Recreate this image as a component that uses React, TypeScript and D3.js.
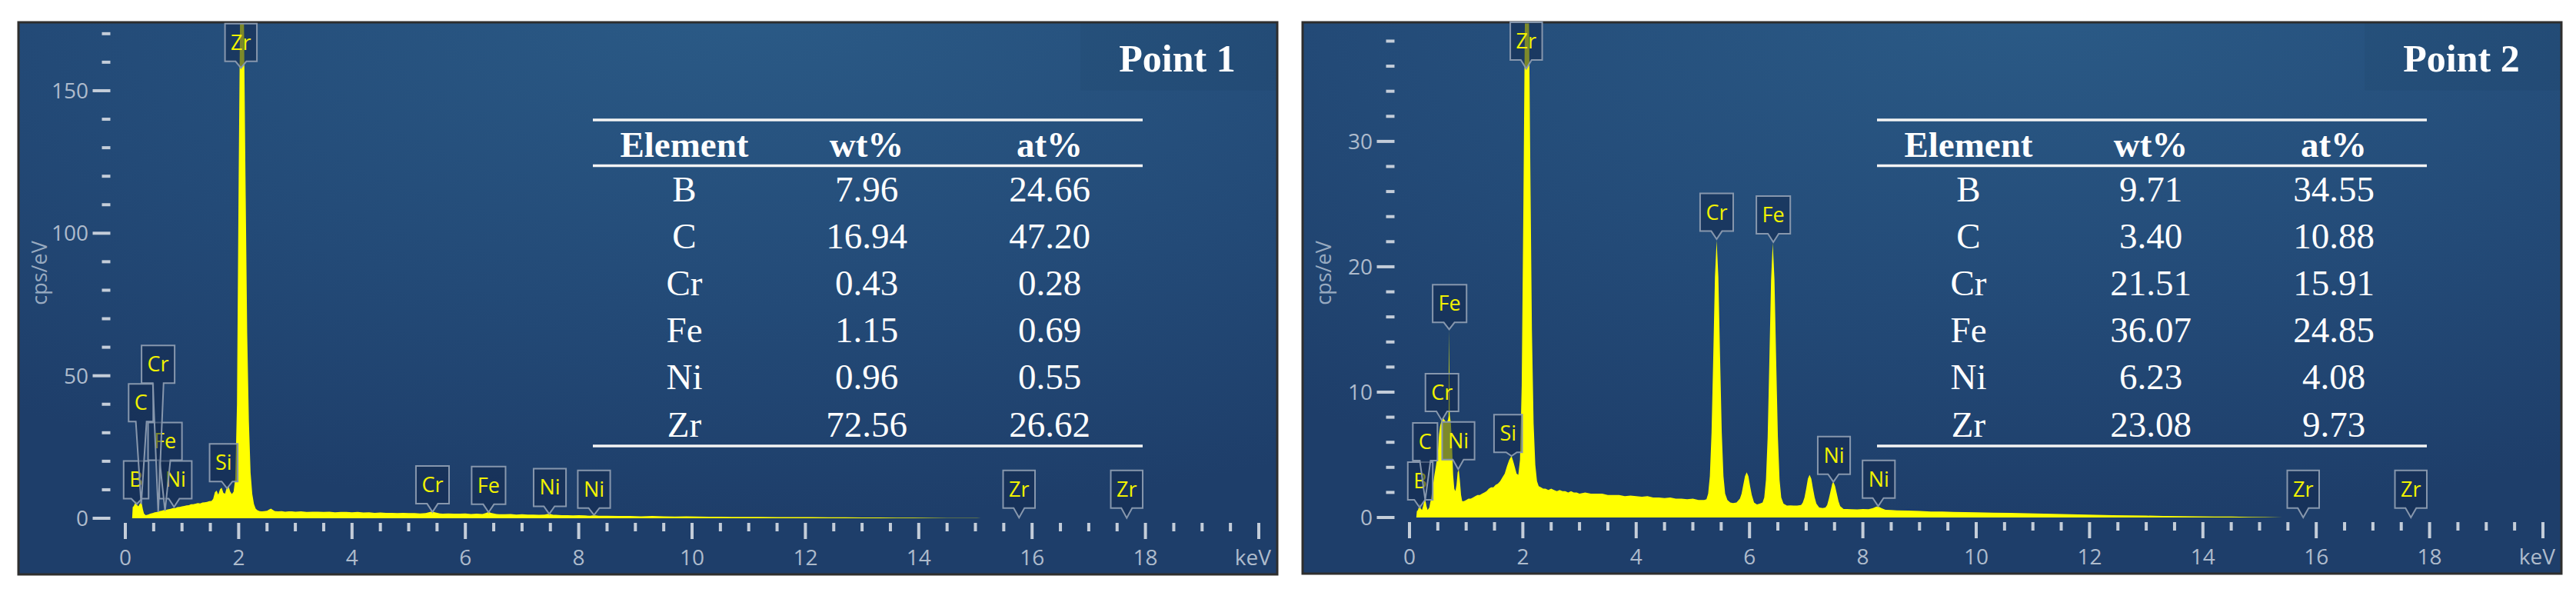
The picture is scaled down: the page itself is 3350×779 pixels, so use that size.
import React, { useEffect, useRef } from "react";
import * as d3 from "d3";

type Pt = [number, number];
type PeakLabel = { el: string; e: number; box: number; tipE: number; tipV: number };

// spectrum of point 1 : [keV, cps/eV]
const spectrum1: Pt[] = [
  [0.12, 0], [0.13, 3.9], [0.15, 4.3], [0.17, 5.2], [0.19, 6.1], [0.21, 4.6], [0.23, 4.2], [0.25, 4.9],
  [0.27, 5.6], [0.29, 5.2], [0.31, 3.1], [0.33, 1.6], [0.36, 1.1], [0.4, 1.3], [0.44, 1.6], [0.48, 1.8],
  [0.52, 2.1], [0.56, 2.2], [0.6, 2.5], [0.64, 2.6], [0.68, 2.9], [0.72, 3.0], [0.76, 3.2], [0.8, 3.3],
  [0.84, 3.6], [0.88, 3.6], [0.92, 3.9], [0.96, 4.0], [1.0, 4.2], [1.04, 4.3], [1.08, 4.5], [1.12, 4.6],
  [1.16, 4.9], [1.2, 4.9], [1.24, 5.1], [1.28, 5.3], [1.32, 5.2], [1.36, 5.5], [1.4, 5.6], [1.44, 5.7],
  [1.48, 6.0], [1.52, 6.1], [1.55, 6.8], [1.58, 9.1], [1.61, 9.7], [1.64, 8.3], [1.67, 10.1], [1.7, 10.7],
  [1.73, 8.9], [1.76, 8.6], [1.79, 10.9], [1.82, 11.3], [1.85, 9.4], [1.88, 8.5], [1.91, 9.3], [1.94, 14],
  [1.97, 40], [2.0, 120], [2.03, 190], [2.06, 205], [2.09, 180], [2.12, 120], [2.15, 65], [2.18, 34],
  [2.21, 16], [2.24, 8.5], [2.27, 5.0], [2.3, 3.4], [2.33, 2.8], [2.37, 2.5], [2.41, 2.4], [2.45, 2.5],
  [2.5, 2.6], [2.54, 3.1], [2.57, 3.4], [2.6, 3.0], [2.64, 2.5], [2.7, 2.4], [2.76, 2.5], [2.82, 2.3],
  [2.88, 2.4], [2.94, 2.4], [3.0, 2.3], [3.1, 2.4], [3.2, 2.2], [3.3, 2.3], [3.4, 2.3], [3.5, 2.2],
  [3.6, 2.3], [3.7, 2.1], [3.8, 2.2], [3.9, 2.2], [4.0, 2.1], [4.1, 2.2], [4.2, 2.0], [4.3, 2.1],
  [4.4, 1.9], [4.5, 2.0], [4.6, 1.9], [4.7, 1.9], [4.8, 1.8], [4.9, 1.9], [5.0, 1.8], [5.1, 1.8],
  [5.2, 1.7], [5.3, 1.8], [5.38, 2.2], [5.42, 2.4], [5.46, 2.1], [5.55, 1.7], [5.6, 1.6], [5.7, 1.7],
  [5.8, 1.6], [5.9, 1.6], [6.0, 1.7], [6.1, 1.5], [6.2, 1.6], [6.3, 1.5], [6.37, 1.9], [6.41, 2.3],
  [6.45, 1.9], [6.55, 1.5], [6.6, 1.4], [6.7, 1.4], [6.8, 1.5], [6.9, 1.3], [7.0, 1.4], [7.1, 1.3],
  [7.2, 1.3], [7.3, 1.2], [7.4, 1.3], [7.48, 1.6], [7.55, 1.2], [7.6, 1.2], [7.7, 1.1], [7.8, 1.1],
  [7.9, 1.0], [8.0, 1.1], [8.1, 1.0], [8.2, 0.9], [8.27, 1.1], [8.35, 0.9], [8.5, 0.9], [8.7, 0.8],
  [8.9, 0.8], [9.1, 0.7], [9.3, 0.8], [9.5, 0.7], [9.7, 0.6], [9.9, 0.65], [10.1, 0.6], [10.3, 0.55],
  [10.5, 0.55], [10.7, 0.5], [10.9, 0.5], [11.2, 0.45], [11.5, 0.42], [11.8, 0.4], [12.1, 0.38],
  [12.4, 0.35], [12.7, 0.32], [13.0, 0.28], [13.3, 0.24], [13.6, 0.2], [13.9, 0.17], [14.2, 0.13],
  [14.5, 0.1], [14.8, 0.06], [15.1, 0.03], [15.4, 0],
];

// spectrum of point 2 : [keV, cps/eV]
const spectrum2: Pt[] = [
  [0.12, 0], [0.13, 0.5], [0.15, 0.6], [0.17, 0.9], [0.18, 1.1], [0.2, 0.7], [0.22, 0.6], [0.24, 0.9],
  [0.26, 1.3], [0.28, 1.4], [0.3, 0.9], [0.32, 0.6], [0.35, 0.8], [0.38, 1.5], [0.41, 2.4], [0.44, 3.4],
  [0.47, 4.2], [0.5, 5.2], [0.52, 6.6], [0.54, 7.3], [0.57, 7.8], [0.6, 7.9], [0.63, 7.7], [0.66, 7.6],
  [0.68, 7.8], [0.69, 8.1], [0.7, 15.0], [0.71, 8.2], [0.73, 7.5], [0.75, 5.8], [0.77, 3.4], [0.79, 2.3],
  [0.81, 2.1], [0.83, 2.6], [0.85, 3.6], [0.87, 3.8], [0.89, 2.9], [0.91, 1.8], [0.93, 1.3], [0.96, 1.3],
  [1.0, 1.4], [1.04, 1.5], [1.08, 1.5], [1.12, 1.6], [1.16, 1.7], [1.2, 1.8], [1.24, 1.8], [1.28, 1.9],
  [1.32, 2.0], [1.36, 2.1], [1.4, 2.3], [1.44, 2.4], [1.48, 2.4], [1.52, 2.6], [1.56, 2.7], [1.6, 2.9],
  [1.64, 3.2], [1.68, 3.5], [1.72, 4.1], [1.76, 4.6], [1.8, 4.9], [1.83, 4.5], [1.86, 4.0], [1.89, 3.5],
  [1.92, 3.4], [1.95, 4.6], [1.98, 10.5], [2.01, 25], [2.04, 42], [2.07, 50], [2.1, 44], [2.13, 29],
  [2.16, 15], [2.19, 7.5], [2.22, 4.2], [2.25, 2.9], [2.28, 2.5], [2.32, 2.4], [2.36, 2.3], [2.4, 2.3],
  [2.45, 2.2], [2.5, 2.3], [2.55, 2.2], [2.6, 2.1], [2.65, 2.2], [2.7, 2.1], [2.75, 2.1], [2.8, 2.0],
  [2.85, 2.1], [2.9, 2.0], [2.95, 2.0], [3.0, 1.9], [3.1, 2.0], [3.2, 1.9], [3.3, 1.9], [3.4, 1.9],
  [3.5, 1.8], [3.6, 1.8], [3.7, 1.8], [3.8, 1.7], [3.9, 1.75], [4.0, 1.7], [4.1, 1.65], [4.2, 1.7],
  [4.3, 1.6], [4.4, 1.6], [4.5, 1.55], [4.6, 1.6], [4.7, 1.5], [4.8, 1.5], [4.9, 1.45], [5.0, 1.5],
  [5.1, 1.4], [5.2, 1.4], [5.24, 1.45], [5.27, 1.9], [5.3, 3.3], [5.33, 6.8], [5.36, 12.8], [5.39, 19.2],
  [5.42, 22.1], [5.45, 19.2], [5.48, 12.8], [5.51, 6.8], [5.54, 3.3], [5.57, 1.9], [5.61, 1.4], [5.66, 1.2],
  [5.71, 1.15], [5.77, 1.2], [5.83, 1.5], [5.86, 1.9], [5.89, 2.6], [5.92, 3.3], [5.95, 3.6], [5.98, 3.3],
  [6.01, 2.5], [6.04, 1.8], [6.08, 1.2], [6.13, 1.05], [6.18, 1.1], [6.23, 1.2], [6.26, 1.6], [6.29, 3.0],
  [6.32, 6.4], [6.35, 12.5], [6.38, 18.9], [6.41, 21.9], [6.44, 19.0], [6.47, 12.6], [6.5, 6.5], [6.53, 3.0],
  [6.56, 1.6], [6.6, 1.1], [6.66, 0.95], [6.72, 0.97], [6.78, 0.95], [6.84, 0.95], [6.91, 1.0], [6.94, 1.2],
  [6.97, 1.6], [7.0, 2.3], [7.03, 3.1], [7.06, 3.4], [7.09, 3.1], [7.12, 2.3], [7.15, 1.6], [7.18, 1.1],
  [7.23, 0.8], [7.29, 0.75], [7.34, 0.8], [7.37, 1.0], [7.4, 1.5], [7.43, 2.1], [7.46, 2.7], [7.48, 2.85],
  [7.51, 2.5], [7.54, 1.9], [7.57, 1.3], [7.6, 0.9], [7.66, 0.67], [7.72, 0.68], [7.8, 0.66], [7.9, 0.65],
  [8.0, 0.68], [8.1, 0.66], [8.18, 0.75], [8.24, 0.88], [8.28, 0.86], [8.34, 0.72], [8.4, 0.62], [8.5, 0.6],
  [8.6, 0.57], [8.8, 0.55], [9.0, 0.52], [9.2, 0.48], [9.4, 0.47], [9.6, 0.45], [9.8, 0.43], [10.0, 0.42],
  [10.3, 0.39], [10.6, 0.37], [10.9, 0.33], [11.2, 0.3], [11.5, 0.27], [11.8, 0.24], [12.1, 0.21],
  [12.4, 0.19], [12.7, 0.17], [13.0, 0.15], [13.3, 0.13], [13.6, 0.11], [13.9, 0.09], [14.2, 0.08],
  [14.5, 0.07], [14.8, 0.05], [15.1, 0.03], [15.4, 0],
];

// peak markers (box centre keV, box bottom cps/eV, tip keV, tip cps/eV), drawn in this order
const peaks1: PeakLabel[] = [
  { el: "Si", e: 1.735, box: 12.9, tipE: 1.795, tipV: 10.5 },
  { el: "Ni", e: 0.886, box: 6.9, tipE: 0.86, tipV: 4.0 },
  { el: "Fe", e: 0.7, box: 20.4, tipE: 0.7, tipV: 2.6 },
  { el: "B", e: 0.19, box: 6.9, tipE: 0.2, tipV: 5.0 },
  { el: "C", e: 0.275, box: 33.9, tipE: 0.28, tipV: 5.0 },
  { el: "Cr", e: 0.578, box: 47.4, tipE: 0.58, tipV: 2.2 },
  { el: "Zr", e: 2.04, box: 160.3, tipE: 2.04, tipV: 158 },
  { el: "Cr", e: 5.42, box: 5.1, tipE: 5.42, tipV: 2.2 },
  { el: "Fe", e: 6.41, box: 4.9, tipE: 6.41, tipV: 2.1 },
  { el: "Ni", e: 7.49, box: 4.2, tipE: 7.48, tipV: 1.5 },
  { el: "Ni", e: 8.27, box: 3.6, tipE: 8.27, tipV: 1.1 },
  { el: "Zr", e: 15.77, box: 3.6, tipE: 15.77, tipV: 0.2 },
  { el: "Zr", e: 17.67, box: 3.6, tipE: 17.67, tipV: 0.1 },
];
const peaks2: PeakLabel[] = [
  { el: "B", e: 0.19, box: 1.41, tipE: 0.18, tipV: 0.8 },
  { el: "Ni", e: 0.862, box: 4.62, tipE: 0.86, tipV: 3.85 },
  { el: "C", e: 0.276, box: 4.54, tipE: 0.277, tipV: 1.4 },
  { el: "Cr", e: 0.573, box: 8.47, tipE: 0.57, tipV: 7.75 },
  { el: "Fe", e: 0.708, box: 15.56, tipE: 0.7, tipV: 15.0 },
  { el: "Si", e: 1.74, box: 5.2, tipE: 1.8, tipV: 4.9 },
  { el: "Zr", e: 2.06, box: 36.5, tipE: 2.06, tipV: 35.8 },
  { el: "Cr", e: 5.42, box: 22.84, tipE: 5.42, tipV: 22.2 },
  { el: "Fe", e: 6.42, box: 22.64, tipE: 6.42, tipV: 21.96 },
  { el: "Ni", e: 7.49, box: 3.45, tipE: 7.48, tipV: 2.84 },
  { el: "Ni", e: 8.28, box: 1.55, tipE: 8.27, tipV: 0.9 },
  { el: "Zr", e: 15.77, box: 0.75, tipE: 15.77, tipV: 0 },
  { el: "Zr", e: 17.67, box: 0.75, tipE: 17.67, tipV: 0 },
];

// composition tables
const tableHeader = ["Element", "wt%", "at%"];
const elements = ["B", "C", "Cr", "Fe", "Ni", "Zr"];
const wt1 = ["7.96", "16.94", "0.43", "1.15", "0.96", "72.56"];
const at1 = ["24.66", "47.20", "0.28", "0.69", "0.55", "26.62"];
const wt2 = ["9.71", "3.40", "21.51", "36.07", "6.23", "23.08"];
const at2 = ["34.55", "10.88", "15.91", "24.85", "4.08", "9.73"];

// axes
const xMajorLabels = [0, 2, 4, 6, 8, 10, 12, 14, 16, 18];
const yLabels1 = [0, 50, 100, 150];
const yLabels2 = [0, 10, 20, 30];

const TICK = "#c4cdd9";
const TICKTXT = "#aebbcc";
const SANS = "'Open Sans', 'Noto Sans', sans-serif";
const SERIF = "'Liberation Serif', 'Times New Roman', serif";

function drawPanel(svg: any, cfg: any) {
  const { id, left, top, width, height, y0, yMax, yStep, yTop, yLabels, spectrum, peaks, wt, at, title } = cfg;
  const g = svg.append("g").attr("transform", `translate(${left},${top})`);

  g.append("rect")
    .attr("width", width).attr("height", height)
    .attr("fill", "url(#bgGrad)")
    .attr("stroke", "#2e2e2e").attr("stroke-width", 3);
  // faint box behind the title
  g.append("rect")
    .attr("x", 1381).attr("y", 1.5).attr("width", width - 1382.5).attr("height", 87)
    .attr("fill", "rgba(12,28,55,0.06)");

  const x = d3.scaleLinear().domain([0, 20]).range([139, 1613]);
  const y = d3.scaleLinear().domain([0, yMax]).range([y0, 0]);

  g.append("clipPath").attr("id", `clip${id}`)
    .append("rect").attr("x", 0).attr("y", 1.5).attr("width", width).attr("height", y0 - 1.5);

  // y ticks
  const yt = d3.range(0, yTop + 0.001, yStep);
  g.append("g").selectAll("line").data(yt).join("line")
    .attr("x1", (d: number) => (yLabels.includes(d) ? 96.5 : 108.5))
    .attr("x2", 119.5)
    .attr("y1", (d: number) => y(d)).attr("y2", (d: number) => y(d))
    .attr("stroke", TICK).attr("stroke-width", 4);
  g.append("g").selectAll("text").data(yLabels).join("text")
    .attr("x", 91).attr("y", (d: number) => y(d)).attr("dy", "0.36em")
    .attr("text-anchor", "end").attr("font-family", SANS).attr("font-size", 28)
    .attr("fill", TICKTXT).text((d: number) => d);
  g.append("text")
    .attr("transform", `translate(27,${326}) rotate(-90)`)
    .attr("text-anchor", "middle").attr("dy", "0.36em")
    .attr("font-family", SANS).attr("font-size", 27).attr("fill", "#98aac0")
    .text("cps/eV");

  // x ticks
  const xt = d3.range(0, 20.001, 0.5);
  g.append("g").selectAll("line").data(xt).join("line")
    .attr("x1", (d: number) => x(d)).attr("x2", (d: number) => x(d))
    .attr("y1", y0 + 6)
    .attr("y2", (d: number) => (d % 2 === 0 ? y0 + 27 : y0 + 17))
    .attr("stroke", TICK).attr("stroke-width", 4);
  g.append("g").selectAll("text").data(xMajorLabels).join("text")
    .attr("x", (d: number) => x(d)).attr("y", y0 + 61)
    .attr("text-anchor", "middle").attr("font-family", SANS).attr("font-size", 28)
    .attr("fill", TICKTXT).text((d: number) => d);
  g.append("text").attr("x", 1629).attr("y", y0 + 61)
    .attr("text-anchor", "end").attr("font-family", SANS).attr("font-size", 28)
    .attr("fill", TICKTXT).text("keV");

  // spectrum
  const area = d3.area<Pt>().x((d) => x(d[0])).y0(y(0)).y1((d) => y(d[1]));
  g.append("path").datum(spectrum)
    .attr("clip-path", `url(#clip${id})`)
    .attr("fill", "#ffff00").attr("d", area);

  // peak callouts
  const BH = 49;
  peaks.forEach((p: PeakLabel) => {
    const lg = g.append("g");
    const path = lg.append("path");
    const cx = x(p.e);
    const bottom = y(p.box);
    const topY = bottom - BH;
    const t = lg.append("text")
      .attr("x", cx).attr("y", topY + 34)
      .attr("text-anchor", "middle").attr("font-family", SANS).attr("font-size", 27)
      .attr("fill", "#f2f200").text(p.el);
    const tw = (t.node() as SVGTextElement).getComputedTextLength();
    const w = tw + 15;
    const l = cx - w / 2;
    const r = cx + w / 2;
    const tx = x(p.tipE);
    const ty = Math.max(y(p.tipV), bottom + 4);
    const bx = Math.min(Math.max(tx, l + 9), r - 9);
    path
      .attr("d", `M${l},${topY}H${r}V${bottom}H${bx + 7}L${tx},${ty}L${bx - 7},${bottom}H${l}Z`)
      .attr("fill", "rgba(18,40,76,0.55)")
      .attr("stroke", "#8797ad").attr("stroke-width", 2)
      .attr("stroke-linejoin", "miter");
  });

  // composition table
  const colX = [866, 1103, 1341];
  [127, 186.5, 551].forEach((ry) => {
    g.append("line").attr("x1", 747).attr("x2", 1462).attr("y1", ry).attr("y2", ry)
      .attr("stroke", "#f4f4f4").attr("stroke-width", 3.5);
  });
  g.append("g").selectAll("text").data(tableHeader).join("text")
    .attr("x", (_: string, i: number) => colX[i]).attr("y", 175)
    .attr("text-anchor", "middle").attr("font-family", SERIF).attr("font-weight", "bold")
    .attr("font-size", 47).attr("fill", "#ffffff").text((d: string) => d);
  const rows = elements.map((el, i) => [el, wt[i], at[i]]);
  rows.forEach((row, ri) => {
    row.forEach((cell, ci) => {
      g.append("text").attr("x", colX[ci]).attr("y", 233 + ri * 61.1)
        .attr("text-anchor", "middle").attr("font-family", SERIF)
        .attr("font-size", 47).attr("fill", "#ffffff").text(cell);
    });
  });

  g.append("text").attr("x", 1507).attr("y", 64)
    .attr("text-anchor", "middle").attr("font-family", SERIF).attr("font-weight", "bold")
    .attr("font-size", 50).attr("fill", "#ffffff").text(title);
}

const App = () => {
  const ref = useRef<SVGSVGElement>(null);

  useEffect(() => {
    const svg = d3.select(ref.current);
    svg.selectAll("*").remove();

    const defs = svg.append("defs");
    const grad = defs.append("radialGradient").attr("id", "bgGrad")
      .attr("cx", "58%").attr("cy", "-5%").attr("r", "95%");
    grad.append("stop").attr("offset", "0%").attr("stop-color", "#2b5b87");
    grad.append("stop").attr("offset", "60%").attr("stop-color", "#234a77");
    grad.append("stop").attr("offset", "100%").attr("stop-color", "#1e3e6a");

    drawPanel(svg, {
      id: 1, left: 24, top: 29, width: 1637, height: 718, y0: 645, yMax: 174, yStep: 10, yTop: 170,
      yLabels: yLabels1, spectrum: spectrum1, peaks: peaks1, wt: wt1, at: at1, title: "Point 1",
    });
    drawPanel(svg, {
      id: 2, left: 1694, top: 29, width: 1637, height: 717, y0: 644, yMax: 39.5, yStep: 2, yTop: 38,
      yLabels: yLabels2, spectrum: spectrum2, peaks: peaks2, wt: wt2, at: at2, title: "Point 2",
    });
  }, []);

  return (
    <svg
      ref={ref}
      width={3350}
      height={779}
      style={{ position: "absolute", left: 0, top: 0, background: "#ffffff" }}
    />
  );
};

export default App;
